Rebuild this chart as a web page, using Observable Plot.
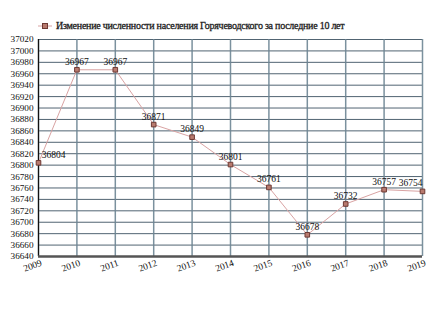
<!DOCTYPE html>
<html><head><meta charset="utf-8">
<script src="https://cdn.jsdelivr.net/npm/d3@7"></script>
<script src="https://cdn.jsdelivr.net/npm/@observablehq/plot@0.6"></script>
<style>
body{margin:0;background:#fff;}
#wrap{position:relative;width:435px;height:320px;}
#legend{position:absolute;left:0;top:20px;font-family:"Liberation Serif";font-size:10px;letter-spacing:-0.25px;-webkit-text-stroke:0.3px #222;color:#222;display:flex;align-items:center;white-space:nowrap;}
#legend svg{margin-left:38px;margin-right:4px;}
#wrap svg text{font-family:"Liberation Serif";}
</style></head><body>
<div id="wrap"><div id="legend"></div></div>
<script>
const years = [2009,2010,2011,2012,2013,2014,2015,2016,2017,2018,2019];
const population = [36804,36967,36967,36871,36849,36801,36761,36678,36732,36757,36754];
const labelDx = [15,0,0,0,0,0,0,0,0,0,-12];
const yTicks = d3.range(36640, 37021, 20);
const title = "Изменение численности населения Горячеводского за последние 10 лет";

const data = years.map((y,i)=>({year:y, value:population[i], dx:labelDx[i]}));
const lineColor = "#d9a3a3", markFill = "#b87a6e", markStroke = "#6e3a34";
const font = "Liberation Serif";

const chart = Plot.plot({
  width: 435, height: 320,
  marginTop: 39, marginBottom: 64, marginLeft: 38, marginRight: 13,
  style: {fontFamily: font, fontSize: "9.5px", color: "#111", background: "#fff"},
  x: {domain: [2009, 2019]},
  y: {domain: [36640, 37020]},
  marks: [
    Plot.gridY(yTicks, {stroke: "#3e5363", strokeOpacity: 0.9, strokeWidth: 1}),
    Plot.gridX(years, {stroke: "#6d8594", strokeOpacity: 0.9, strokeWidth: 1.5}),
    Plot.axisY(yTicks, {tickSize: 0, tickPadding: 5, label: null, tickFormat: d => String(d), fontSize: 9.2}),
    Plot.axisX(years, {tickSize: 0, tickPadding: 6, label: null, tickFormat: d => String(d), tickRotate: -20, textAnchor: "end", dx: 3, fontSize: 9.5}),
    Plot.ruleX([2009], {stroke: "#111", strokeWidth: 1.2}),
    Plot.ruleY([36640], {stroke: "#555", strokeWidth: 2.5}),
    Plot.line(data, {x: "year", y: "value", stroke: lineColor, strokeWidth: 1}),
    Plot.dot(data, {x: "year", y: "value", symbol: "square", r: 2.6, fill: markFill, stroke: markStroke, strokeWidth: 1}),
    ...data.map(d => Plot.text([d], {x: "year", y: "value", text: v => String(v.value), dy: -8, dx: d.dx, fontSize: 9.5, fill: "#111"}))
  ]
});
document.getElementById("wrap").appendChild(chart);

const leg = document.getElementById("legend");
leg.innerHTML = `<svg width="14" height="8"><line x1="0" x2="14" y1="4" y2="4" stroke="${lineColor}" stroke-width="1"/><rect x="4.5" y="1.5" width="5" height="5" fill="${markFill}" stroke="${markStroke}"/></svg><span>${title}</span>`;
</script>
</body></html>
